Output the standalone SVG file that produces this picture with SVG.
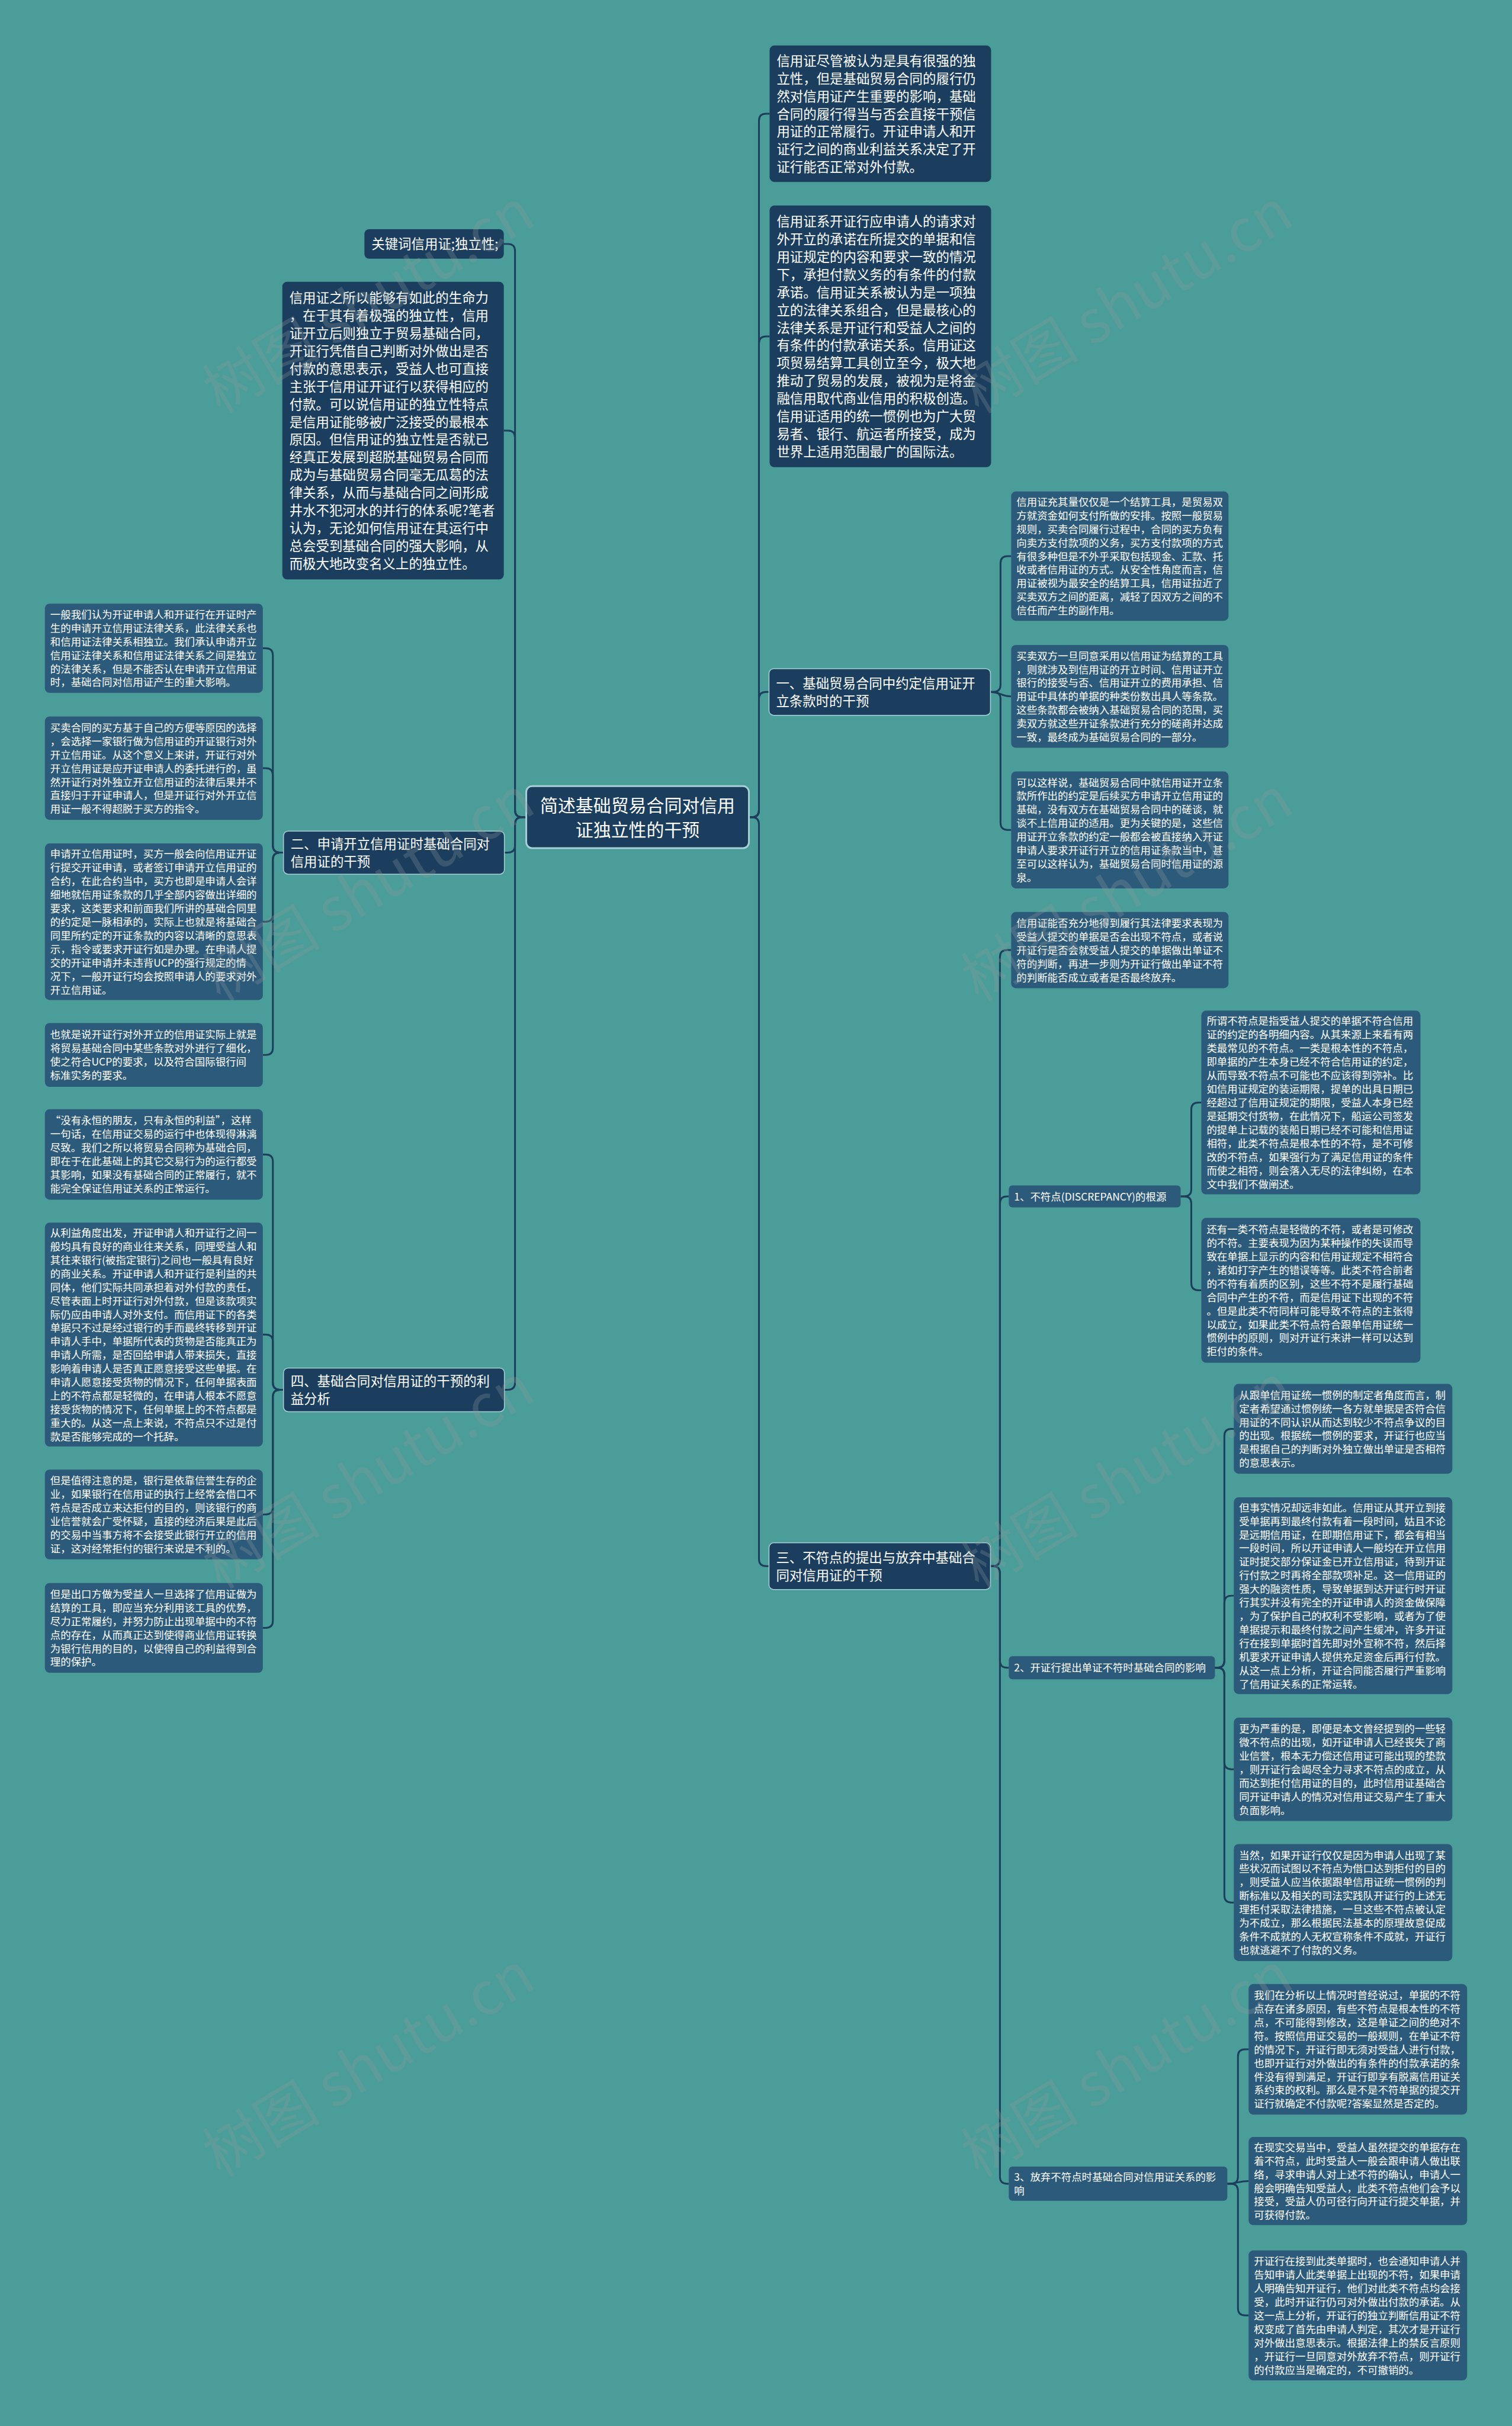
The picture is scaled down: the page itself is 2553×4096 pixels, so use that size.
<svg xmlns="http://www.w3.org/2000/svg" width="2553" height="4096" viewBox="0 0 2553 4096">
<style>
.bg{fill:#4b9d99}
.bx1{fill:#1b3e5e}
.bx2{fill:#2c5a7b}
.lab{fill:#1b3e5e;stroke:#a7d0d6;stroke-width:1.5}
.ctr{fill:#1b3e5e;stroke:#a7d0d6;stroke-width:3}
.tb{font-family:'Noto Sans CJK SC','Noto Sans',sans-serif;font-size:22.5px;fill:#ffffff}
.ts{font-family:'Noto Sans CJK SC','Noto Sans',sans-serif;font-size:17.5px;fill:#ffffff}
.tc{font-family:'Noto Sans CJK SC','Noto Sans',sans-serif;font-size:30px;fill:#ffffff;text-anchor:middle}
.conn path{fill:none;stroke:#1d3d5c;stroke-width:3}
.wm{font-family:'Noto Sans CJK SC','Noto Sans',sans-serif;font-size:100px;fill:#8c9a9c;opacity:0.28}
</style>
<rect class="bg" x="0" y="0" width="2553" height="4096"/>
<g transform="scale(0.99727)">
<g class="conn" id="connectors">
<path d="M891 1383.5 H884 Q872 1383.5 872 1371.5 V425 Q872 413 860 413 H853"/>
<path d="M891 1383.5 H884 Q872 1383.5 872 1371.5 V741 Q872 729 860 729 H853"/>
<path d="M891 1383.5 H884 Q872 1383.5 872 1395.5 V1431.5 Q872 1443.5 860 1443.5 H854"/>
<path d="M891 1383.5 H884 Q872 1383.5 872 1395.5 V2341 Q872 2353 860 2353 H854"/>
<path d="M1268 1383.5 H1273 Q1285 1383.5 1285 1371.5 V204.5 Q1285 192.5 1297 192.5 H1303"/>
<path d="M1268 1383.5 H1273 Q1285 1383.5 1285 1371.5 V581.5 Q1285 569.5 1297 569.5 H1303"/>
<path d="M1268 1383.5 H1273 Q1285 1383.5 1285 1371.5 V1183.5 Q1285 1171.5 1297 1171.5 H1302"/>
<path d="M1268 1383.5 H1273 Q1285 1383.5 1285 1395.5 V2639.5 Q1285 2651.5 1297 2651.5 H1302"/>
<path d="M480 1443.5 H474 Q462 1443.5 462 1431.5 V1109.5 Q462 1097.5 450 1097.5 H445"/>
<path d="M480 1443.5 H474 Q462 1443.5 462 1431.5 V1312.5 Q462 1300.5 450 1300.5 H445"/>
<path d="M480 1443.5 H474 Q462 1443.5 462 1455.5 V1548.5 Q462 1560.5 450 1560.5 H445"/>
<path d="M480 1443.5 H474 Q462 1443.5 462 1455.5 V1774 Q462 1786 450 1786 H445"/>
<path d="M480 2353 H474 Q462 2353 462 2341 V1966.5 Q462 1954.5 450 1954.5 H445"/>
<path d="M480 2353 H474 Q462 2353 462 2341 V2271.5 Q462 2259.5 450 2259.5 H445"/>
<path d="M480 2353 H474 Q462 2353 462 2365 V2552 Q462 2564 450 2564 H445"/>
<path d="M480 2353 H474 Q462 2353 462 2365 V2744 Q462 2756 450 2756 H445"/>
<path d="M1677 1171.5 H1682 Q1694 1171.5 1694 1159.5 V953.5 Q1694 941.5 1706 941.5 H1712"/>
<path d="M1677 1171.5 C1694 1171.5 1694 1179 1712 1179"/>
<path d="M1677 1171.5 H1682 Q1694 1171.5 1694 1183.5 V1393 Q1694 1405 1706 1405 H1712"/>
<path d="M1677 2651.5 H1681 Q1693 2651.5 1693 2639.5 V1620.5 Q1693 1608.5 1705 1608.5 H1712"/>
<path d="M1677 2651.5 H1681 Q1693 2651.5 1693 2639.5 V2037.5 Q1693 2025.5 1705 2025.5 H1708"/>
<path d="M1677 2651.5 H1681 Q1693 2651.5 1693 2663.5 V2811.5 Q1693 2823.5 1705 2823.5 H1708"/>
<path d="M1677 2651.5 H1681 Q1693 2651.5 1693 2663.5 V3685 Q1693 3697 1705 3697 H1708"/>
<path d="M1999 2025.5 H2005 Q2017 2025.5 2017 2013.5 V1878.5 Q2017 1866.5 2029 1866.5 H2034"/>
<path d="M1999 2025.5 H2005 Q2017 2025.5 2017 2037.5 V2172.5 Q2017 2184.5 2029 2184.5 H2034"/>
<path d="M2057 2823.5 H2061 Q2073 2823.5 2073 2811.5 V2431 Q2073 2419 2085 2419 H2089"/>
<path d="M2057 2823.5 H2061 Q2073 2823.5 2073 2811.5 V2713.5 Q2073 2701.5 2085 2701.5 H2089"/>
<path d="M2057 2823.5 H2061 Q2073 2823.5 2073 2835.5 V2983.5 Q2073 2995.5 2085 2995.5 H2089"/>
<path d="M2057 2823.5 H2061 Q2073 2823.5 2073 2835.5 V3209 Q2073 3221 2085 3221 H2089"/>
<path d="M2078 3697 H2084 Q2096 3697 2096 3685 V3481.5 Q2096 3469.5 2108 3469.5 H2114"/>
<path d="M2078 3697 C2096 3697 2096 3692.5 2114 3692.5"/>
<path d="M2078 3697 H2084 Q2096 3697 2096 3709 V3908 Q2096 3920 2108 3920 H2114"/>
</g>

<g id="center">
<rect class="ctr" x="891" y="1331" width="377" height="105" rx="10"/>
<text class="tc"><tspan x="1079.5" y="1374.4">简述基础贸易合同对信用</tspan><tspan x="1079.5" y="1415.4">证独立性的干预</tspan></text>
</g>

<g id="keyword">
<rect class="bx1" x="617" y="388" width="236" height="50" rx="8"/>
<text class="tb" x="629" y="421.5">关键词信用证;独立性;</text>
</g>

<g id="left-intro">
<rect class="bx1" x="478" y="477" width="375" height="504" rx="8"/>
<text class="tb"><tspan x="490" y="512.55">信用证之所以能够有如此的生命力</tspan><tspan x="490" dy="30">，在于其有着极强的独立性，信用</tspan><tspan x="490" dy="30">证开立后则独立于贸易基础合同，</tspan><tspan x="490" dy="30">开证行凭借自己判断对外做出是否</tspan><tspan x="490" dy="30">付款的意思表示，受益人也可直接</tspan><tspan x="490" dy="30">主张于信用证开证行以获得相应的</tspan><tspan x="490" dy="30">付款。可以说信用证的独立性特点</tspan><tspan x="490" dy="30">是信用证能够被广泛接受的最根本</tspan><tspan x="490" dy="30">原因。但信用证的独立性是否就已</tspan><tspan x="490" dy="30">经真正发展到超脱基础贸易合同而</tspan><tspan x="490" dy="30">成为与基础贸易合同毫无瓜葛的法</tspan><tspan x="490" dy="30">律关系，从而与基础合同之间形成</tspan><tspan x="490" dy="30">井水不犯河水的并行的体系呢?笔者</tspan><tspan x="490" dy="30">认为，无论如何信用证在其运行中</tspan><tspan x="490" dy="30">总会受到基础合同的强大影响，从</tspan><tspan x="490" dy="30">而极大地改变名义上的独立性。</tspan></text>
</g>

<g id="branch-2">
<rect class="lab" x="480" y="1407" width="374" height="73" rx="8"/>
<text class="tb"><tspan x="492" y="1437.05">二、申请开立信用证时基础合同对</tspan><tspan x="492" dy="30">信用证的干预</tspan></text>
</g>

<g id="branch-4">
<rect class="lab" x="480" y="2316" width="374" height="74" rx="8"/>
<text class="tb"><tspan x="492" y="2346.55">四、基础合同对信用证的干预的利</tspan><tspan x="492" dy="30">益分析</tspan></text>
</g>

<g id="l-a">
<rect class="bx2" x="76" y="1022" width="369" height="151" rx="8"/>
<text class="ts"><tspan x="85" y="1046.65">一般我们认为开证申请人和开证行在开证时产</tspan><tspan x="85" dy="23">生的申请开立信用证法律关系，此法律关系也</tspan><tspan x="85" dy="23">和信用证法律关系相独立。我们承认申请开立</tspan><tspan x="85" dy="23">信用证法律关系和信用证法律关系之间是独立</tspan><tspan x="85" dy="23">的法律关系，但是不能否认在申请开立信用证</tspan><tspan x="85" dy="23">时，基础合同对信用证产生的重大影响。</tspan></text>
</g>

<g id="l-b">
<rect class="bx2" x="76" y="1213" width="369" height="175" rx="8"/>
<text class="ts"><tspan x="85" y="1238.15">买卖合同的买方基于自己的方便等原因的选择</tspan><tspan x="85" dy="23">，会选择一家银行做为信用证的开证银行对外</tspan><tspan x="85" dy="23">开立信用证。从这个意义上来讲，开证行对外</tspan><tspan x="85" dy="23">开立信用证是应开证申请人的委托进行的，虽</tspan><tspan x="85" dy="23">然开证行对外独立开立信用证的法律后果并不</tspan><tspan x="85" dy="23">直接归于开证申请人，但是开证行对外开立信</tspan><tspan x="85" dy="23">用证一般不得超脱于买方的指令。</tspan></text>
</g>

<g id="l-c">
<rect class="bx2" x="76" y="1428" width="369" height="265" rx="8"/>
<text class="ts"><tspan x="85" y="1452.15">申请开立信用证时，买方一般会向信用证开证</tspan><tspan x="85" dy="23">行提交开证申请，或者签订申请开立信用证的</tspan><tspan x="85" dy="23">合约，在此合约当中，买方也即是申请人会详</tspan><tspan x="85" dy="23">细地就信用证条款的几乎全部内容做出详细的</tspan><tspan x="85" dy="23">要求，这类要求和前面我们所讲的基础合同里</tspan><tspan x="85" dy="23">的约定是一脉相承的，实际上也就是将基础合</tspan><tspan x="85" dy="23">同里所约定的开证条款的内容以清晰的意思表</tspan><tspan x="85" dy="23">示，指令或要求开证行如是办理。在申请人提</tspan><tspan x="85" dy="23">交的开证申请并未违背UCP的强行规定的情</tspan><tspan x="85" dy="23">况下，一般开证行均会按照申请人的要求对外</tspan><tspan x="85" dy="23">开立信用证。</tspan></text>
</g>

<g id="l-d">
<rect class="bx2" x="76" y="1732" width="369" height="108" rx="8"/>
<text class="ts"><tspan x="85" y="1758.15">也就是说开证行对外开立的信用证实际上就是</tspan><tspan x="85" dy="23">将贸易基础合同中某些条款对外进行了细化，</tspan><tspan x="85" dy="23">使之符合UCP的要求，以及符合国际银行间</tspan><tspan x="85" dy="23">标准实务的要求。</tspan></text>
</g>

<g id="l-e">
<rect class="bx2" x="76" y="1878" width="369" height="153" rx="8"/>
<text class="ts"><tspan x="85" y="1903.65">“没有永恒的朋友，只有永恒的利益”，这样</tspan><tspan x="85" dy="23">一句话，在信用证交易的运行中也体现得淋漓</tspan><tspan x="85" dy="23">尽致。我们之所以将贸易合同称为基础合同，</tspan><tspan x="85" dy="23">即在于在此基础上的其它交易行为的运行都受</tspan><tspan x="85" dy="23">其影响，如果没有基础合同的正常履行，就不</tspan><tspan x="85" dy="23">能完全保证信用证关系的正常运行。</tspan></text>
</g>

<g id="l-f">
<rect class="bx2" x="76" y="2070" width="369" height="379" rx="8"/>
<text class="ts"><tspan x="85" y="2093.65">从利益角度出发，开证申请人和开证行之间一</tspan><tspan x="85" dy="23">般均具有良好的商业往来关系，同理受益人和</tspan><tspan x="85" dy="23">其往来银行(被指定银行)之间也一般具有良好</tspan><tspan x="85" dy="23">的商业关系。开证申请人和开证行是利益的共</tspan><tspan x="85" dy="23">同体，他们实际共同承担着对外付款的责任，</tspan><tspan x="85" dy="23">尽管表面上时开证行对外付款，但是该款项实</tspan><tspan x="85" dy="23">际仍应由申请人对外支付。而信用证下的各类</tspan><tspan x="85" dy="23">单据只不过是经过银行的手而最终转移到开证</tspan><tspan x="85" dy="23">申请人手中，单据所代表的货物是否能真正为</tspan><tspan x="85" dy="23">申请人所需，是否回给申请人带来损失，直接</tspan><tspan x="85" dy="23">影响着申请人是否真正愿意接受这些单据。在</tspan><tspan x="85" dy="23">申请人愿意接受货物的情况下，任何单据表面</tspan><tspan x="85" dy="23">上的不符点都是轻微的，在申请人根本不愿意</tspan><tspan x="85" dy="23">接受货物的情况下，任何单据上的不符点都是</tspan><tspan x="85" dy="23">重大的。从这一点上来说，不符点只不过是付</tspan><tspan x="85" dy="23">款是否能够完成的一个托辞。</tspan></text>
</g>

<g id="l-g">
<rect class="bx2" x="76" y="2488" width="369" height="152" rx="8"/>
<text class="ts"><tspan x="85" y="2513.15">但是值得注意的是，银行是依靠信誉生存的企</tspan><tspan x="85" dy="23">业，如果银行在信用证的执行上经常会借口不</tspan><tspan x="85" dy="23">符点是否成立来达拒付的目的，则该银行的商</tspan><tspan x="85" dy="23">业信誉就会广受怀疑，直接的经济后果是此后</tspan><tspan x="85" dy="23">的交易中当事方将不会接受此银行开立的信用</tspan><tspan x="85" dy="23">证，这对经常拒付的银行来说是不利的。</tspan></text>
</g>

<g id="l-h">
<rect class="bx2" x="76" y="2680" width="369" height="152" rx="8"/>
<text class="ts"><tspan x="85" y="2705.15">但是出口方做为受益人一旦选择了信用证做为</tspan><tspan x="85" dy="23">结算的工具，即应当充分利用该工具的优势，</tspan><tspan x="85" dy="23">尽力正常履约，并努力防止出现单据中的不符</tspan><tspan x="85" dy="23">点的存在，从而真正达到使得商业信用证转换</tspan><tspan x="85" dy="23">为银行信用的目的，以使得自己的利益得到合</tspan><tspan x="85" dy="23">理的保护。</tspan></text>
</g>

<g id="r-1">
<rect class="bx1" x="1303" y="77" width="375" height="231" rx="8"/>
<text class="tb"><tspan x="1315" y="111.05">信用证尽管被认为是具有很强的独</tspan><tspan x="1315" dy="30">立性，但是基础贸易合同的履行仍</tspan><tspan x="1315" dy="30">然对信用证产生重要的影响，基础</tspan><tspan x="1315" dy="30">合同的履行得当与否会直接干预信</tspan><tspan x="1315" dy="30">用证的正常履行。开证申请人和开</tspan><tspan x="1315" dy="30">证行之间的商业利益关系决定了开</tspan><tspan x="1315" dy="30">证行能否正常对外付款。</tspan></text>
</g>

<g id="r-2">
<rect class="bx1" x="1303" y="348" width="375" height="443" rx="8"/>
<text class="tb"><tspan x="1315" y="383.05">信用证系开证行应申请人的请求对</tspan><tspan x="1315" dy="30">外开立的承诺在所提交的单据和信</tspan><tspan x="1315" dy="30">用证规定的内容和要求一致的情况</tspan><tspan x="1315" dy="30">下，承担付款义务的有条件的付款</tspan><tspan x="1315" dy="30">承诺。信用证关系被认为是一项独</tspan><tspan x="1315" dy="30">立的法律关系组合，但是最核心的</tspan><tspan x="1315" dy="30">法律关系是开证行和受益人之间的</tspan><tspan x="1315" dy="30">有条件的付款承诺关系。信用证这</tspan><tspan x="1315" dy="30">项贸易结算工具创立至今，极大地</tspan><tspan x="1315" dy="30">推动了贸易的发展，被视为是将金</tspan><tspan x="1315" dy="30">融信用取代商业信用的积极创造。</tspan><tspan x="1315" dy="30">信用证适用的统一惯例也为广大贸</tspan><tspan x="1315" dy="30">易者、银行、航运者所接受，成为</tspan><tspan x="1315" dy="30">世界上适用范围最广的国际法。</tspan></text>
</g>

<g id="branch-1">
<rect class="lab" x="1302" y="1132" width="375" height="79" rx="8"/>
<text class="tb"><tspan x="1314" y="1165.05">一、基础贸易合同中约定信用证开</tspan><tspan x="1314" dy="30">立条款时的干预</tspan></text>
</g>

<g id="branch-3">
<rect class="lab" x="1302" y="2612" width="375" height="79" rx="8"/>
<text class="tb"><tspan x="1314" y="2645.05">三、不符点的提出与放弃中基础合</tspan><tspan x="1314" dy="30">同对信用证的干预</tspan></text>
</g>

<g id="r-a">
<rect class="bx2" x="1712" y="832" width="368" height="219" rx="8"/>
<text class="ts"><tspan x="1721" y="856.15">信用证充其量仅仅是一个结算工具，是贸易双</tspan><tspan x="1721" dy="23">方就资金如何支付所做的安排。按照一般贸易</tspan><tspan x="1721" dy="23">规则，买卖合同履行过程中，合同的买方负有</tspan><tspan x="1721" dy="23">向卖方支付款项的义务，买方支付款项的方式</tspan><tspan x="1721" dy="23">有很多种但是不外乎采取包括现金、汇款、托</tspan><tspan x="1721" dy="23">收或者信用证的方式。从安全性角度而言，信</tspan><tspan x="1721" dy="23">用证被视为最安全的结算工具，信用证拉近了</tspan><tspan x="1721" dy="23">买卖双方之间的距离，减轻了因双方之间的不</tspan><tspan x="1721" dy="23">信任而产生的副作用。</tspan></text>
</g>

<g id="r-b">
<rect class="bx2" x="1712" y="1092" width="368" height="174" rx="8"/>
<text class="ts"><tspan x="1721" y="1116.65">买卖双方一旦同意采用以信用证为结算的工具</tspan><tspan x="1721" dy="23">，则就涉及到信用证的开立时间、信用证开立</tspan><tspan x="1721" dy="23">银行的接受与否、信用证开立的费用承担、信</tspan><tspan x="1721" dy="23">用证中具体的单据的种类份数出具人等条款。</tspan><tspan x="1721" dy="23">这些条款都会被纳入基础贸易合同的范围，买</tspan><tspan x="1721" dy="23">卖双方就这些开证条款进行充分的磋商并达成</tspan><tspan x="1721" dy="23">一致，最终成为基础贸易合同的一部分。</tspan></text>
</g>

<g id="r-c">
<rect class="bx2" x="1712" y="1306" width="368" height="198" rx="8"/>
<text class="ts"><tspan x="1721" y="1331.15">可以这样说，基础贸易合同中就信用证开立条</tspan><tspan x="1721" dy="23">款所作出的约定是后续买方申请开立信用证的</tspan><tspan x="1721" dy="23">基础，没有双方在基础贸易合同中的磋谈，就</tspan><tspan x="1721" dy="23">谈不上信用证的适用。更为关键的是，这些信</tspan><tspan x="1721" dy="23">用证开立条款的约定一般都会被直接纳入开证</tspan><tspan x="1721" dy="23">申请人要求开证行开立的信用证条款当中，甚</tspan><tspan x="1721" dy="23">至可以这样认为，基础贸易合同时信用证的源</tspan><tspan x="1721" dy="23">泉。</tspan></text>
</g>

<g id="r-d">
<rect class="bx2" x="1712" y="1544" width="368" height="129" rx="8"/>
<text class="ts"><tspan x="1721" y="1569.15">信用证能否充分地得到履行其法律要求表现为</tspan><tspan x="1721" dy="23">受益人提交的单据是否会出现不符点，或者说</tspan><tspan x="1721" dy="23">开证行是否会就受益人提交的单据做出单证不</tspan><tspan x="1721" dy="23">符的判断，再进一步则为开证行做出单证不符</tspan><tspan x="1721" dy="23">的判断能否成立或者是否最终放弃。</tspan></text>
</g>

<g id="sub-1">
<rect class="bx2" x="1708" y="2007" width="291" height="37" rx="6"/>
<text class="ts" x="1717" y="2032.15">1、不符点(DISCREPANCY)的根源</text>
</g>

<g id="c1-a">
<rect class="bx2" x="2034" y="1711" width="371" height="311" rx="8"/>
<text class="ts"><tspan x="2043" y="1735.15">所谓不符点是指受益人提交的单据不符合信用</tspan><tspan x="2043" dy="23">证的约定的各明细内容。从其来源上来看有两</tspan><tspan x="2043" dy="23">类最常见的不符点。一类是根本性的不符点，</tspan><tspan x="2043" dy="23">即单据的产生本身已经不符合信用证的约定，</tspan><tspan x="2043" dy="23">从而导致不符点不可能也不应该得到弥补。比</tspan><tspan x="2043" dy="23">如信用证规定的装运期限，提单的出具日期已</tspan><tspan x="2043" dy="23">经超过了信用证规定的期限，受益人本身已经</tspan><tspan x="2043" dy="23">是延期交付货物，在此情况下，船运公司签发</tspan><tspan x="2043" dy="23">的提单上记载的装船日期已经不可能和信用证</tspan><tspan x="2043" dy="23">相符，此类不符点是根本性的不符，是不可修</tspan><tspan x="2043" dy="23">改的不符点，如果强行为了满足信用证的条件</tspan><tspan x="2043" dy="23">而使之相符，则会落入无尽的法律纠纷，在本</tspan><tspan x="2043" dy="23">文中我们不做阐述。</tspan></text>
</g>

<g id="c1-b">
<rect class="bx2" x="2034" y="2062" width="371" height="245" rx="8"/>
<text class="ts"><tspan x="2043" y="2087.65">还有一类不符点是轻微的不符，或者是可修改</tspan><tspan x="2043" dy="23">的不符。主要表现为因为某种操作的失误而导</tspan><tspan x="2043" dy="23">致在单据上显示的内容和信用证规定不相符合</tspan><tspan x="2043" dy="23">，诸如打字产生的错误等等。此类不符合前者</tspan><tspan x="2043" dy="23">的不符有着质的区别，这些不符不是履行基础</tspan><tspan x="2043" dy="23">合同中产生的不符，而是信用证下出现的不符</tspan><tspan x="2043" dy="23">。但是此类不符同样可能导致不符点的主张得</tspan><tspan x="2043" dy="23">以成立，如果此类不符点符合跟单信用证统一</tspan><tspan x="2043" dy="23">惯例中的原则，则对开证行来讲一样可以达到</tspan><tspan x="2043" dy="23">拒付的条件。</tspan></text>
</g>

<g id="sub-2">
<rect class="bx2" x="1708" y="2804" width="349" height="39" rx="6"/>
<text class="ts" x="1717" y="2830.15">2、开证行提出单证不符时基础合同的影响</text>
</g>

<g id="c2-a">
<rect class="bx2" x="2089" y="2343" width="370" height="152" rx="8"/>
<text class="ts"><tspan x="2098" y="2368.15">从跟单信用证统一惯例的制定者角度而言，制</tspan><tspan x="2098" dy="23">定者希望通过惯例统一各方就单据是否符合信</tspan><tspan x="2098" dy="23">用证的不同认识从而达到较少不符点争议的目</tspan><tspan x="2098" dy="23">的出现。根据统一惯例的要求，开证行也应当</tspan><tspan x="2098" dy="23">是根据自己的判断对外独立做出单证是否相符</tspan><tspan x="2098" dy="23">的意思表示。</tspan></text>
</g>

<g id="c2-b">
<rect class="bx2" x="2089" y="2535" width="370" height="333" rx="8"/>
<text class="ts"><tspan x="2098" y="2558.65">但事实情况却远非如此。信用证从其开立到接</tspan><tspan x="2098" dy="23">受单据再到最终付款有着一段时间，姑且不论</tspan><tspan x="2098" dy="23">是远期信用证，在即期信用证下，都会有相当</tspan><tspan x="2098" dy="23">一段时间，所以开证申请人一般均在开立信用</tspan><tspan x="2098" dy="23">证时提交部分保证金已开立信用证，待到开证</tspan><tspan x="2098" dy="23">行付款之时再将全部款项补足。这一信用证的</tspan><tspan x="2098" dy="23">强大的融资性质，导致单据到达开证行时开证</tspan><tspan x="2098" dy="23">行其实并没有完全的开证申请人的资金做保障</tspan><tspan x="2098" dy="23">，为了保护自己的权利不受影响，或者为了使</tspan><tspan x="2098" dy="23">单据提示和最终付款之间产生缓冲，许多开证</tspan><tspan x="2098" dy="23">行在接到单据时首先即对外宣称不符，然后择</tspan><tspan x="2098" dy="23">机要求开证申请人提供充足资金后再行付款。</tspan><tspan x="2098" dy="23">从这一点上分析，开证合同能否履行严重影响</tspan><tspan x="2098" dy="23">了信用证关系的正常运转。</tspan></text>
</g>

<g id="c2-c">
<rect class="bx2" x="2089" y="2908" width="370" height="175" rx="8"/>
<text class="ts"><tspan x="2098" y="2933.15">更为严重的是，即便是本文曾经提到的一些轻</tspan><tspan x="2098" dy="23">微不符点的出现，如开证申请人已经丧失了商</tspan><tspan x="2098" dy="23">业信誉，根本无力偿还信用证可能出现的垫款</tspan><tspan x="2098" dy="23">，则开证行会竭尽全力寻求不符点的成立，从</tspan><tspan x="2098" dy="23">而达到拒付信用证的目的，此时信用证基础合</tspan><tspan x="2098" dy="23">同开证申请人的情况对信用证交易产生了重大</tspan><tspan x="2098" dy="23">负面影响。</tspan></text>
</g>

<g id="c2-d">
<rect class="bx2" x="2089" y="3122" width="370" height="198" rx="8"/>
<text class="ts"><tspan x="2098" y="3147.15">当然，如果开证行仅仅是因为申请人出现了某</tspan><tspan x="2098" dy="23">些状况而试图以不符点为借口达到拒付的目的</tspan><tspan x="2098" dy="23">，则受益人应当依据跟单信用证统一惯例的判</tspan><tspan x="2098" dy="23">断标准以及相关的司法实践队开证行的上述无</tspan><tspan x="2098" dy="23">理拒付采取法律措施，一旦这些不符点被认定</tspan><tspan x="2098" dy="23">为不成立，那么根据民法基本的原理故意促成</tspan><tspan x="2098" dy="23">条件不成就的人无权宣称条件不成就，开证行</tspan><tspan x="2098" dy="23">也就逃避不了付款的义务。</tspan></text>
</g>

<g id="sub-3">
<rect class="bx2" x="1708" y="3668" width="370" height="58" rx="6"/>
<text class="ts"><tspan x="1717" y="3692.15">3、放弃不符点时基础合同对信用证关系的影</tspan><tspan x="1717" dy="23">响</tspan></text>
</g>

<g id="c3-a">
<rect class="bx2" x="2114" y="3359" width="370" height="221" rx="8"/>
<text class="ts"><tspan x="2123" y="3384.15">我们在分析以上情况时曾经说过，单据的不符</tspan><tspan x="2123" dy="23">点存在诸多原因，有些不符点是根本性的不符</tspan><tspan x="2123" dy="23">点，不可能得到修改，这是单证之间的绝对不</tspan><tspan x="2123" dy="23">符。按照信用证交易的一般规则，在单证不符</tspan><tspan x="2123" dy="23">的情况下，开证行即无须对受益人进行付款，</tspan><tspan x="2123" dy="23">也即开证行对外做出的有条件的付款承诺的条</tspan><tspan x="2123" dy="23">件没有得到满足，开证行即享有脱离信用证关</tspan><tspan x="2123" dy="23">系约束的权利。那么是不是不符单据的提交开</tspan><tspan x="2123" dy="23">证行就确定不付款呢?答案显然是否定的。</tspan></text>
</g>

<g id="c3-b">
<rect class="bx2" x="2114" y="3618" width="370" height="149" rx="8"/>
<text class="ts"><tspan x="2123" y="3641.65">在现实交易当中，受益人虽然提交的单据存在</tspan><tspan x="2123" dy="23">着不符点，此时受益人一般会跟申请人做出联</tspan><tspan x="2123" dy="23">络，寻求申请人对上述不符的确认，申请人一</tspan><tspan x="2123" dy="23">般会明确告知受益人，此类不符点他们会予以</tspan><tspan x="2123" dy="23">接受，受益人仍可径行向开证行提交单据，并</tspan><tspan x="2123" dy="23">可获得付款。</tspan></text>
</g>

<g id="c3-c">
<rect class="bx2" x="2114" y="3810" width="370" height="220" rx="8"/>
<text class="ts"><tspan x="2123" y="3834.65">开证行在接到此类单据时，也会通知申请人并</tspan><tspan x="2123" dy="23">告知申请人此类单据上出现的不符，如果申请</tspan><tspan x="2123" dy="23">人明确告知开证行，他们对此类不符点均会接</tspan><tspan x="2123" dy="23">受，此时开证行仍可对外做出付款的承诺。从</tspan><tspan x="2123" dy="23">这一点上分析，开证行的独立判断信用证不符</tspan><tspan x="2123" dy="23">权变成了首先由申请人判定，其次才是开证行</tspan><tspan x="2123" dy="23">对外做出意思表示。根据法律上的禁反言原则</tspan><tspan x="2123" dy="23">，开证行一旦同意对外放弃不符点，则开证行</tspan><tspan x="2123" dy="23">的付款应当是确定的，不可撤销的。</tspan></text>
</g>

<g id="watermarks">
<text class="wm" text-anchor="middle" transform="translate(642 540) rotate(-31)">树图 shutu.cn</text>
<text class="wm" text-anchor="middle" transform="translate(1926 540) rotate(-31)">树图 shutu.cn</text>
<text class="wm" text-anchor="middle" transform="translate(642 1535) rotate(-31)">树图 shutu.cn</text>
<text class="wm" text-anchor="middle" transform="translate(1926 1535) rotate(-31)">树图 shutu.cn</text>
<text class="wm" text-anchor="middle" transform="translate(642 2530) rotate(-31)">树图 shutu.cn</text>
<text class="wm" text-anchor="middle" transform="translate(1926 2530) rotate(-31)">树图 shutu.cn</text>
<text class="wm" text-anchor="middle" transform="translate(642 3525) rotate(-31)">树图 shutu.cn</text>
<text class="wm" text-anchor="middle" transform="translate(1926 3525) rotate(-31)">树图 shutu.cn</text>
</g>
</g>
</svg>
